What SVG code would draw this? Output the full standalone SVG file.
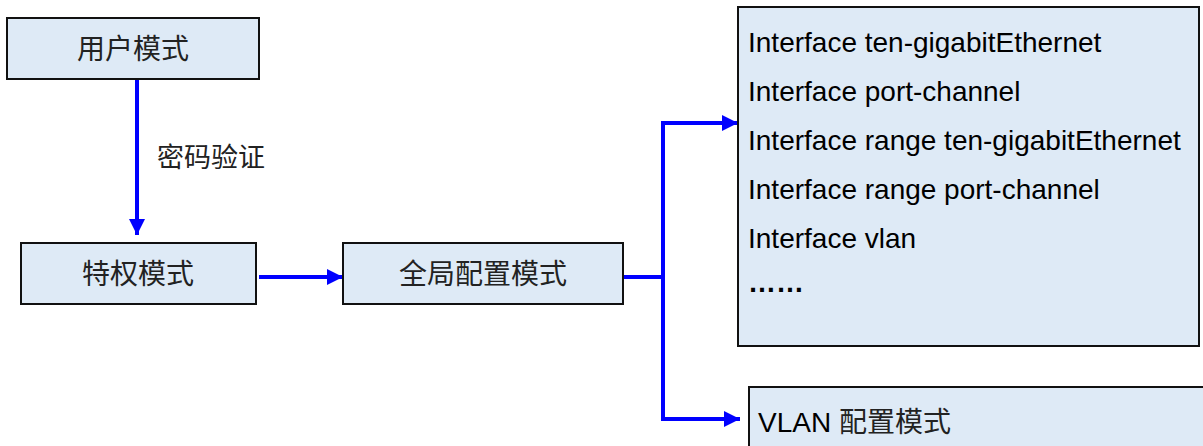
<svg xmlns="http://www.w3.org/2000/svg" width="1203" height="446" viewBox="0 0 1203 446">
<style>
.box{fill:#DEEAF6;stroke:#111;stroke-width:2}
.cn{font-family:"Noto Sans CJK SC","Liberation Sans",sans-serif;font-size:28px;fill:#222}
.en{font-family:"Liberation Sans","Noto Sans CJK SC",sans-serif;font-size:28px;fill:#000}
.con{fill:none;stroke:#0000FF;stroke-width:4}
</style>
<defs>
<marker id="ah" viewBox="0 0 16 16" refX="16" refY="8" markerWidth="16" markerHeight="16" markerUnits="userSpaceOnUse" orient="auto">
<path d="M0,0 L16,8 L0,16 Z" fill="#0000FF"/>
</marker>
</defs>
<g id="connectors">
<path class="con" d="M137,79 V235" marker-end="url(#ah)"/>
<path class="con" d="M259,277 H343" marker-end="url(#ah)"/>
<path class="con" d="M623,277 H663"/>
<path class="con" d="M663,277 V123 H738" marker-end="url(#ah)"/>
<path class="con" d="M663,277 V419 H740" marker-end="url(#ah)"/>
<text class="cn" x="157" y="167" style="font-size:27px">密码验证</text>
</g>
<g id="user">
<rect class="box" x="7" y="18" width="252" height="61"/>
<text class="cn" x="133" y="59" text-anchor="middle">用户模式</text>
</g>
<g id="priv">
<rect class="box" x="21" y="243" width="235" height="61"/>
<text class="cn" x="138" y="284" text-anchor="middle">特权模式</text>
</g>
<g id="global">
<rect class="box" x="343" y="243" width="280" height="61"/>
<text class="cn" x="483" y="284" text-anchor="middle">全局配置模式</text>
</g>
<g id="iface">
<rect class="box" x="738" y="7" width="461" height="339"/>
<text class="en" x="748" y="52">Interface ten-gigabitEthernet</text>
<text class="en" x="748" y="101">Interface port-channel</text>
<text class="en" x="748" y="150">Interface range ten-gigabitEthernet</text>
<text class="en" x="748" y="199">Interface range port-channel</text>
<text class="en" x="748" y="248">Interface vlan</text>
<text class="en" x="748" y="292" font-weight="bold">……</text>
</g>
<g id="vlan">
<rect class="box" x="749" y="387" width="470" height="80"/>
<text class="en" x="758" y="432">VLAN <tspan class="cn">配置模式</tspan></text>
</g>
</svg>
